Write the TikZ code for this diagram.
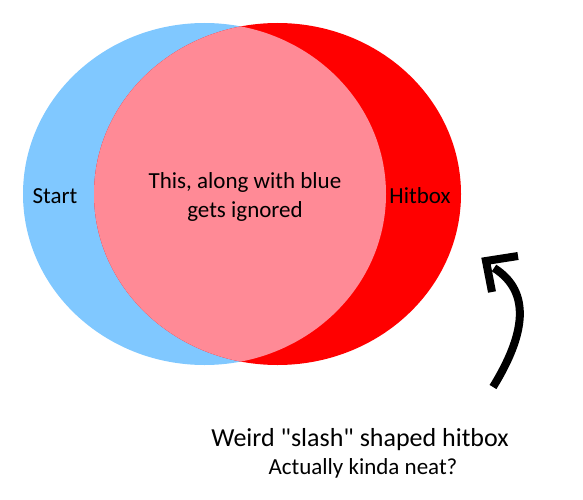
\documentclass[tikz,border=0pt]{standalone}
\usepackage{fontspec}
\setmainfont{Carlito}
\newfontfamily\carlplain{Carlito}
\definecolor{skyb}{RGB}{128,200,255}
\definecolor{hitred}{RGB}{255,0,0}
\definecolor{pinkmix}{RGB}{255,138,150}
\begin{document}
\begin{tikzpicture}[x=1pt,y=-1pt,
  lbl/.style={font=\carlplain\fontsize{23}{29}\selectfont, text=black, inner sep=0pt, align=center},
  captionone/.style={font=\carlplain\fontsize{26}{30}\selectfont, text=black, inner sep=0pt},
  captiontwo/.style={font=\carlplain\fontsize{23}{26}\selectfont, text=black, inner sep=0pt}]
\useasboundingbox (0,0) rectangle (583,500);
\fill[skyb] (204.5,194) ellipse [x radius=181.5, y radius=171];
\fill[hitred] (277.5,194) ellipse [x radius=183.5, y radius=171];
\begin{scope}
  \clip (204.5,194) ellipse [x radius=181.5, y radius=171];
  \fill[pinkmix] (277.5,194) ellipse [x radius=183.5, y radius=171];
\end{scope}
\node[lbl] (start) at (55,196) {Start};
\node[lbl] (mid) at (245,197) {This, along with blue\\gets ignored};
\node[lbl] (hit) at (420,196) {Hitbox};
\node[captionone] (t1) at (360,440) {Weird "slash" shaped hitbox};
\node[captiontwo] (t2) at (363,468) {Actually kinda neat?};
\coordinate (s) at (493,387);
\coordinate (tip) at (486,261);
\coordinate (w1) at (518,256);
\coordinate (w2) at (492,292);
\draw[line width=8pt] (s) .. controls (525,335) and (532,292) .. (494,268);
\draw[line width=8pt, line join=miter, miter limit=10] (w1) -- (tip) -- (w2);
\end{tikzpicture}
\end{document}
